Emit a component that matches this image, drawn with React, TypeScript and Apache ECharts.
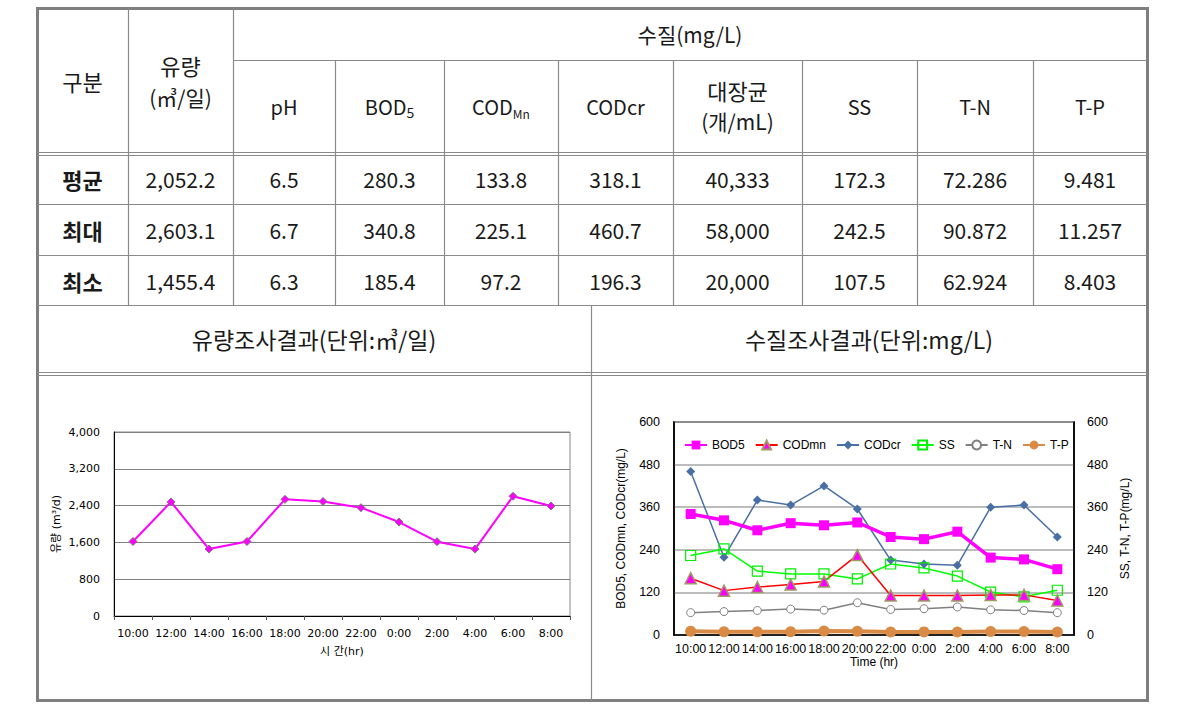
import { useEffect, useRef } from 'react';
import * as echarts from 'echarts';

// ---------- data ----------
const times = ['10:00', '12:00', '14:00', '16:00', '18:00', '20:00', '22:00', '0:00', '2:00', '4:00', '6:00', '8:00'];
const flow = [1620, 2480, 1455, 1620, 2536, 2490, 2355, 2043, 1616, 1455, 2603, 2391];
const bod5 = [340.8, 323, 295, 315, 309, 317, 276, 270, 291, 218, 213, 185.4];
const codMn = [160, 125, 135, 142, 151, 225.1, 111, 111, 111, 113, 113, 97.2];
const codCr = [460.7, 219, 380, 366, 420, 355, 211, 200, 196.3, 360, 366, 276];
const ss = [224, 242.5, 180, 172, 172, 158, 200, 189, 166, 121, 107.5, 126];
const tn = [63, 66, 69, 73, 70, 90.9, 72, 74, 79, 71, 69, 62.9];
const tp = [10.5, 9, 9, 9, 11.3, 10.5, 8.4, 8.8, 8.5, 10, 9.6, 8.5];

const flowTicks = [0, 800, 1600, 2400, 3200, 4000];
const qualityTicks = [0, 120, 240, 360, 480, 600];

const rowLabels = ['평균', '최대', '최소'];
const flowStats = ['2,052.2', '2,603.1', '1,455.4'];
const phStats = ['6.5', '6.7', '6.3'];
const bodStats = ['280.3', '340.8', '185.4'];
const codMnStats = ['133.8', '225.1', '97.2'];
const codCrStats = ['318.1', '460.7', '196.3'];
const coliStats = ['40,333', '58,000', '20,000'];
const ssStats = ['172.3', '242.5', '107.5'];
const tnStats = ['72.286', '90.872', '62.924'];
const tpStats = ['9.481', '11.257', '8.403'];

// ---------- layout ----------
const KR = '"Noto Sans CJK KR", "Noto Sans", sans-serif';
const ARIAL = '"Liberation Sans", Arial, sans-serif';
const TAHOMA = '"DejaVu Sans", "Noto Sans CJK KR", sans-serif';
const LINE = '#8a8a8a';
const TXT = '#1a1a1a';

const colX = [37, 128, 233, 335, 444, 558, 673, 802, 917, 1033, 1147];
const colCenters = colX.slice(0, -1).map((x, i) => (x + colX[i + 1]) / 2);
const rowCenters = [179, 229.5, 280.5];

function hline(y: number, x1: number, x2: number, w = 1.2) {
  return { type: 'line', shape: { x1, y1: y, x2, y2: y }, style: { stroke: LINE, lineWidth: w }, silent: true };
}
function vline(x: number, y1: number, y2: number, w = 1.2) {
  return { type: 'line', shape: { x1: x, y1, x2: x, y2 }, style: { stroke: LINE, lineWidth: w }, silent: true };
}
function txt(text: string, x: number, y: number, size = 21, extra: any = {}) {
  return {
    type: 'text',
    x,
    y,
    silent: true,
    style: { text, fontSize: size, fontFamily: KR, fill: TXT, align: 'center', verticalAlign: 'middle', ...extra },
  };
}

function buildGraphic() {
  const g: any[] = [];
  // outer border
  g.push({ type: 'rect', shape: { x: 37.5, y: 8.5, width: 1110, height: 692 }, style: { fill: 'none', stroke: '#7f7f7f', lineWidth: 3 }, silent: true });
  // horizontals
  g.push(hline(60.5, 233, 1147));
  g.push(hline(152.5, 37, 1147));
  g.push(hline(155.5, 37, 1147));
  g.push(hline(204.5, 37, 1147));
  g.push(hline(255.5, 37, 1147));
  g.push(hline(305.5, 37, 1147));
  g.push(hline(372.5, 37, 1147));
  g.push(hline(375.5, 37, 1147));
  // verticals
  g.push(vline(128.5, 8, 305));
  g.push(vline(233.5, 8, 305));
  [335, 444, 558, 673, 802, 917, 1033].forEach((x) => g.push(vline(x + 0.5, 60, 305)));
  g.push(vline(591.5, 305, 701));

  // header texts
  g.push(txt('구분', colCenters[0], 81, 22));
  g.push(txt('유량', colCenters[1], 65, 22));
  g.push(txt('(㎥/일)', colCenters[1], 97, 21));
  g.push(txt('수질(mg/L)', 690, 34, 21));
  g.push(txt('pH', colCenters[2], 106, 20));
  g.push({
    type: 'text', x: colCenters[3], y: 106, silent: true,
    style: {
      text: '{a|BOD}{b|5}', align: 'center', verticalAlign: 'middle',
      rich: {
        a: { fontSize: 20, fontFamily: KR, fill: TXT, lineHeight: 26, verticalAlign: 'middle' },
        b: { fontSize: 14, fontFamily: KR, fill: TXT, lineHeight: 16, verticalAlign: 'bottom' },
      },
    },
  });
  g.push({
    type: 'text', x: colCenters[4], y: 106, silent: true,
    style: {
      text: '{a|COD}{b|Mn}', align: 'center', verticalAlign: 'middle',
      rich: {
        a: { fontSize: 20, fontFamily: KR, fill: TXT, lineHeight: 26, verticalAlign: 'middle' },
        b: { fontSize: 12, fontFamily: KR, fill: TXT, lineHeight: 14, verticalAlign: 'bottom' },
      },
    },
  });
  g.push(txt('CODcr', colCenters[5], 106, 20));
  g.push(txt('대장균', colCenters[6], 90, 22));
  g.push(txt('(개/mL)', colCenters[6], 121, 21));
  g.push(txt('SS', colCenters[7], 106, 20));
  g.push(txt('T-N', colCenters[8], 106, 20));
  g.push(txt('T-P', colCenters[9], 106, 20));

  const cols = [rowLabels, flowStats, phStats, bodStats, codMnStats, codCrStats, coliStats, ssStats, tnStats, tpStats];
  cols.forEach((col, ci) => {
    col.forEach((v, ri) => {
      g.push(txt(v, colCenters[ci], rowCenters[ri], ci === 0 ? 22 : 21, ci === 0 ? { fontWeight: 'bold' } : {}));
    });
  });

  g.push(txt('유량조사결과(단위:㎥/일)', 314, 339, 23));
  g.push(txt('수질조사결과(단위:mg/L)', 869, 339, 23));
  return g;
}

const option: any = {
  animation: false,
  backgroundColor: '#ffffff',
  graphic: buildGraphic(),
  grid: [
    { left: 114, top: 432, width: 456, height: 184, show: true, borderColor: '#8a8a8a', borderWidth: 1, backgroundColor: 'transparent' },
    { left: 674, top: 422, width: 400, height: 213, show: true, borderColor: '#000', borderWidth: 1.5, backgroundColor: 'transparent' },
  ],
  legend: {
    left: 679,
    top: 434,
    itemWidth: 22,
    itemHeight: 11,
    itemGap: 10,
    data: ['BOD5', 'CODmn', 'CODcr', 'SS', 'T-N', 'T-P'],
    textStyle: { fontSize: 12, fontFamily: ARIAL, color: '#000' },
  },
  xAxis: [
    {
      type: 'category',
      gridIndex: 0,
      data: times,
      boundaryGap: true,
      axisLine: { lineStyle: { color: '#000', width: 1 } },
      axisTick: { show: true, length: 4, lineStyle: { color: '#555' } },
      axisLabel: { interval: 0, margin: 12, fontSize: 11, fontFamily: TAHOMA, color: '#000' },
      name: '시 간(hr)',
      nameLocation: 'middle',
      nameGap: 30,
      nameTextStyle: { fontSize: 11, fontFamily: TAHOMA, color: '#000' },
    },
    {
      type: 'category',
      gridIndex: 1,
      data: times,
      boundaryGap: true,
      axisLine: { lineStyle: { color: '#000', width: 1.5 } },
      axisTick: { show: false },
      axisLabel: { interval: 0, margin: 7, fontSize: 12.5, fontFamily: ARIAL, color: '#000' },
      name: 'Time (hr)',
      nameLocation: 'middle',
      nameGap: 21,
      nameTextStyle: { fontSize: 12, fontFamily: ARIAL, color: '#000' },
    },
  ],
  yAxis: [
    {
      type: 'value',
      gridIndex: 0,
      min: flowTicks[0],
      max: flowTicks[flowTicks.length - 1],
      interval: flowTicks[1] - flowTicks[0],
      axisLine: { show: true, lineStyle: { color: '#000', width: 1 } },
      axisTick: { show: false },
      splitLine: { show: true, lineStyle: { color: '#808080', width: 1 } },
      axisLabel: {
        margin: 14,
        fontSize: 11,
        fontFamily: TAHOMA,
        color: '#000',
        formatter: (v: number) => v.toLocaleString('en-US'),
      },
      name: '유량 (m³/d)',
      nameLocation: 'middle',
      nameGap: 52,
      nameTextStyle: { fontSize: 11, fontFamily: TAHOMA, color: '#000' },
    },
    {
      type: 'value',
      gridIndex: 1,
      min: qualityTicks[0],
      max: qualityTicks[qualityTicks.length - 1],
      interval: qualityTicks[1] - qualityTicks[0],
      axisLine: { show: true, lineStyle: { color: '#000', width: 1.5 } },
      axisTick: { show: false },
      splitLine: { show: true, lineStyle: { color: '#a6a6a6', width: 1.5 } },
      axisLabel: { margin: 14, fontSize: 12.5, fontFamily: ARIAL, color: '#000' },
      name: 'BOD5, CODmn, CODcr(mg/L)',
      nameLocation: 'middle',
      nameGap: 47,
      nameTextStyle: { fontSize: 12, fontFamily: ARIAL, color: '#000' },
    },
    {
      type: 'value',
      gridIndex: 1,
      position: 'right',
      min: qualityTicks[0],
      max: qualityTicks[qualityTicks.length - 1],
      interval: qualityTicks[1] - qualityTicks[0],
      axisLine: { show: true, lineStyle: { color: '#000', width: 1.5 } },
      axisTick: { show: false },
      splitLine: { show: false },
      axisLabel: { margin: 13, fontSize: 12.5, fontFamily: ARIAL, color: '#000' },
      name: 'SS, T-N, T-P(mg/L)',
      nameLocation: 'middle',
      nameGap: 45,
      nameTextStyle: { fontSize: 12, fontFamily: ARIAL, color: '#000' },
    },
  ],
  series: [
    {
      name: 'flow',
      type: 'line',
      xAxisIndex: 0,
      yAxisIndex: 0,
      data: flow,
      symbol: 'diamond',
      symbolSize: 8,
      lineStyle: { color: '#ff00ff', width: 2 },
      itemStyle: { color: '#ff00ff', borderColor: '#7a7a7a', borderWidth: 1 },
    },
    {
      name: 'T-P',
      type: 'line',
      xAxisIndex: 1,
      yAxisIndex: 2,
      data: tp,
      symbol: 'circle',
      symbolSize: 11,
      lineStyle: { color: '#d98b45', width: 4 },
      itemStyle: { color: '#d98b45' },
    },
    {
      name: 'T-N',
      type: 'line',
      xAxisIndex: 1,
      yAxisIndex: 2,
      data: tn,
      symbol: 'circle',
      symbolSize: 8,
      lineStyle: { color: '#808080', width: 1.5 },
      itemStyle: { color: '#ffffff', borderColor: '#808080', borderWidth: 1 },
    },
    {
      name: 'CODcr',
      type: 'line',
      xAxisIndex: 1,
      yAxisIndex: 1,
      data: codCr,
      symbol: 'diamond',
      symbolSize: 9,
      lineStyle: { color: '#4a6fa5', width: 1.5 },
      itemStyle: { color: '#4a6fa5' },
    },
    {
      name: 'SS',
      type: 'line',
      xAxisIndex: 1,
      yAxisIndex: 2,
      data: ss,
      symbol: 'rect',
      symbolSize: 10,
      lineStyle: { color: '#00ff00', width: 1.5 },
      itemStyle: { color: 'rgba(255,255,255,0)', borderColor: '#00ee00', borderWidth: 1.2 },
    },
    {
      name: 'CODmn',
      type: 'line',
      xAxisIndex: 1,
      yAxisIndex: 1,
      data: codMn,
      symbol: 'triangle',
      symbolSize: 11,
      lineStyle: { color: '#ff0000', width: 1.5 },
      itemStyle: { color: '#ff00ff', borderColor: '#a09a62', borderWidth: 1.5 },
    },
    {
      name: 'BOD5',
      type: 'line',
      xAxisIndex: 1,
      yAxisIndex: 1,
      data: bod5,
      symbol: 'rect',
      symbolSize: 10,
      lineStyle: { color: '#ff00ff', width: 3.5 },
      itemStyle: { color: '#ff00ff' },
    },
  ],
};

export default function App() {
  const ref = useRef<HTMLDivElement>(null);
  useEffect(() => {
    document.body.style.margin = '0';
    const chart = echarts.init(ref.current as HTMLDivElement, null, { renderer: 'svg' });
    chart.setOption(option);
    return () => chart.dispose();
  }, []);
  return <div ref={ref} style={{ width: 1191, height: 706 }} />;
}
